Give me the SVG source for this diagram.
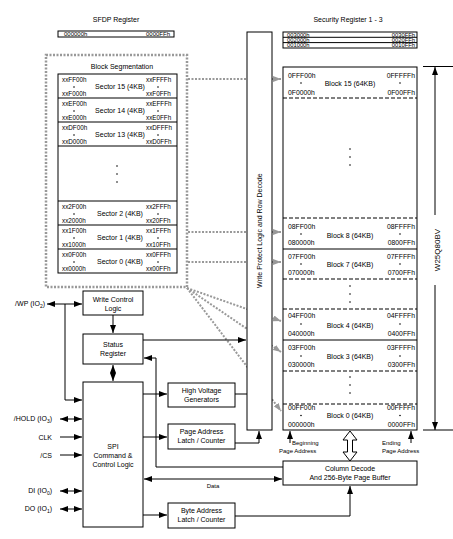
<svg xmlns="http://www.w3.org/2000/svg" width="453" height="539" viewBox="0 0 453 539">
<style>
text{font-family:"Liberation Sans",Arial,sans-serif;fill:#000}
.t{font-size:7px}
.b{font-size:7px;text-anchor:middle}
.h{font-size:6.8px}
.hs{font-size:6.3px}
.hr{font-size:5.8px}
.sm{font-size:6px}
.s{font-size:7px;text-anchor:middle}
.m{text-anchor:middle}
.e{text-anchor:end}
.box{fill:#fff;stroke:#000;stroke-width:1}
.ln{fill:none;stroke:#000;stroke-width:1}
.dash{fill:none;stroke:#000;stroke-width:1;stroke-dasharray:4,2}
.gd{fill:none;stroke:#999;stroke-width:2;stroke-dasharray:2,1.5}
.dot{fill:#000}
</style>
<defs>
<marker id="a" viewBox="0 0 8 6" refX="8" refY="3" markerWidth="8" markerHeight="6" markerUnits="userSpaceOnUse" orient="auto-start-reverse"><path d="M0,0L8,3L0,6z" fill="#000"/></marker>
<marker id="g" viewBox="0 0 8 6" refX="8" refY="3" markerWidth="8" markerHeight="6" markerUnits="userSpaceOnUse" orient="auto"><path d="M0,0L8,3L0,6z" fill="#999"/></marker>
</defs>

<!-- titles -->
<text class="t m" x="116" y="22">SFDP Register</text>
<text class="t m" x="348" y="22">Security Register 1 - 3</text>

<g id="sfdp">
<rect class="box" x="58" y="31" width="116" height="6"/>
<text class="sm" x="64" y="36.2">000000h</text>
<text class="sm e" x="170" y="36.2">0000FFh</text>
</g>

<g id="security">
<rect class="box" x="283" y="32" width="134" height="16"/>
<line class="ln" x1="283" y1="37.3" x2="417" y2="37.3"/>
<line class="ln" x1="283" y1="42.6" x2="417" y2="42.6"/>
<text class="hr" x="287" y="36.8">003000h</text>
<text class="hr e" x="415" y="36.8">0030FFh</text>
<text class="hr" x="287" y="42.1">002000h</text>
<text class="hr e" x="415" y="42.1">0020FFh</text>
<text class="hr" x="287" y="47.4">001000h</text>
<text class="hr e" x="415" y="47.4">0010FFh</text>
</g>

<!-- gray dotted connectors -->
<g id="connectors-gray">
<line class="gd" x1="188" y1="79" x2="281" y2="79" marker-end="url(#g)"/>
<line class="gd" x1="188" y1="232" x2="281" y2="232" marker-end="url(#g)"/>
<line class="gd" x1="188" y1="262" x2="281" y2="262" marker-end="url(#g)"/>
<line class="gd" x1="187" y1="288" x2="281" y2="321" marker-end="url(#g)"/>
<line class="gd" x1="187" y1="288" x2="281" y2="352" marker-end="url(#g)"/>
<line class="gd" x1="187" y1="288" x2="281" y2="411" marker-end="url(#g)"/>
</g>

<g id="block-segmentation">
<rect x="46" y="55" width="141" height="232" fill="none" stroke="#999" stroke-width="2.5" stroke-dasharray="2,1.5"/>
<text class="t m" x="122" y="69">Block Segmentation</text>
<rect class="box" x="58" y="74" width="119" height="199"/>
<line class="ln" x1="58" y1="98" x2="177" y2="98"/>
<line class="ln" x1="58" y1="122" x2="177" y2="122"/>
<line class="ln" x1="58" y1="146" x2="177" y2="146"/>
<line class="ln" x1="58" y1="201" x2="177" y2="201"/>
<line class="ln" x1="58" y1="225" x2="177" y2="225"/>
<line class="ln" x1="58" y1="249" x2="177" y2="249"/>
<!-- sector 15 -->
<text class="hs" x="62" y="82">xxFF00h</text><circle class="dot" cx="74" cy="87" r="0.8"/><text class="hs" x="62" y="95.5">xxF000h</text>
<text class="s" x="120" y="89">Sector 15 (4KB)</text>
<text class="hs" x="146" y="82">xxFFFFh</text><circle class="dot" cx="158" cy="87" r="0.8"/><text class="hs" x="146" y="95.5">xxF0FFh</text>
<!-- sector 14 -->
<text class="hs" x="62" y="106">xxEF00h</text><circle class="dot" cx="74" cy="111" r="0.8"/><text class="hs" x="62" y="119.5">xxE000h</text>
<text class="s" x="120" y="113">Sector 14 (4KB)</text>
<text class="hs" x="146" y="106">xxEFFFh</text><circle class="dot" cx="158" cy="111" r="0.8"/><text class="hs" x="146" y="119.5">xxE0FFh</text>
<!-- sector 13 -->
<text class="hs" x="62" y="130">xxDF00h</text><circle class="dot" cx="74" cy="135" r="0.8"/><text class="hs" x="62" y="143.5">xxD000h</text>
<text class="s" x="120" y="137">Sector 13 (4KB)</text>
<text class="hs" x="146" y="130">xxDFFFh</text><circle class="dot" cx="158" cy="135" r="0.8"/><text class="hs" x="146" y="143.5">xxD0FFh</text>
<circle class="dot" cx="117" cy="166" r="0.8"/><circle class="dot" cx="117" cy="174" r="0.8"/><circle class="dot" cx="117" cy="182" r="0.8"/>
<!-- sector 2 -->
<text class="hs" x="62" y="209">xx2F00h</text><circle class="dot" cx="74" cy="214" r="0.8"/><text class="hs" x="62" y="222.5">xx2000h</text>
<text class="s" x="120" y="216">Sector 2 (4KB)</text>
<text class="hs" x="146" y="209">xx2FFFh</text><circle class="dot" cx="158" cy="214" r="0.8"/><text class="hs" x="146" y="222.5">xx20FFh</text>
<!-- sector 1 -->
<text class="hs" x="62" y="233">xx1F00h</text><circle class="dot" cx="74" cy="238" r="0.8"/><text class="hs" x="62" y="246.5">xx1000h</text>
<text class="s" x="120" y="240">Sector 1 (4KB)</text>
<text class="hs" x="146" y="233">xx1FFFh</text><circle class="dot" cx="158" cy="238" r="0.8"/><text class="hs" x="146" y="246.5">xx10FFh</text>
<!-- sector 0 -->
<text class="hs" x="62" y="257">xx0F00h</text><circle class="dot" cx="74" cy="262" r="0.8"/><text class="hs" x="62" y="270.5">xx0000h</text>
<text class="s" x="120" y="264">Sector 0 (4KB)</text>
<text class="hs" x="146" y="257">xx0FFFh</text><circle class="dot" cx="158" cy="262" r="0.8"/><text class="hs" x="146" y="270.5">xx00FFh</text>
</g>

<g id="write-protect">
<rect class="box" x="247" y="32" width="25" height="398"/>
<text class="t" transform="translate(262,288) rotate(-90)">Write Protect Logic and Row Decode</text>
</g>

<g id="memory-array">
<rect class="box" x="283" y="67" width="134" height="363"/>
<line class="dash" x1="283" y1="98" x2="417" y2="98"/>
<line class="dash" x1="283" y1="218" x2="417" y2="218"/>
<line class="ln" x1="283" y1="249" x2="417" y2="249"/>
<line class="dash" x1="283" y1="279" x2="417" y2="279"/>
<line class="dash" x1="283" y1="309" x2="417" y2="309"/>
<line class="ln" x1="283" y1="340" x2="417" y2="340"/>
<line class="dash" x1="283" y1="371" x2="417" y2="371"/>
<line class="dash" x1="283" y1="404" x2="417" y2="404"/>
<!-- block 15 -->
<text class="h" x="288" y="77.5">0FFF00h</text><circle class="dot" cx="301" cy="83" r="0.8"/><text class="h" x="288" y="94.5">0F0000h</text>
<text class="s" x="350" y="85.5">Block 15 (64KB)</text>
<text class="h e" x="415" y="77.5">0FFFFFh</text><circle class="dot" cx="400" cy="83" r="0.8"/><text class="h e" x="415" y="94.5">0F00FFh</text>
<circle class="dot" cx="350" cy="149" r="0.8"/><circle class="dot" cx="350" cy="157" r="0.8"/><circle class="dot" cx="350" cy="165" r="0.8"/>
<!-- block 8 -->
<text class="h" x="288" y="228.5">08FF00h</text><circle class="dot" cx="301" cy="234" r="0.8"/><text class="h" x="288" y="244.5">080000h</text>
<text class="s" x="350" y="237.5">Block 8 (64KB)</text>
<text class="h e" x="415" y="228.5">08FFFFh</text><circle class="dot" cx="400" cy="234" r="0.8"/><text class="h e" x="415" y="244.5">0800FFh</text>
<!-- block 7 -->
<text class="h" x="288" y="258.5">07FF00h</text><circle class="dot" cx="301" cy="264" r="0.8"/><text class="h" x="288" y="274.5">070000h</text>
<text class="s" x="350" y="266.5">Block 7 (64KB)</text>
<text class="h e" x="415" y="258.5">07FFFFh</text><circle class="dot" cx="400" cy="264" r="0.8"/><text class="h e" x="415" y="274.5">0700FFh</text>
<circle class="dot" cx="350" cy="286" r="0.8"/><circle class="dot" cx="350" cy="294" r="0.8"/><circle class="dot" cx="350" cy="302" r="0.8"/>
<!-- block 4 -->
<text class="h" x="288" y="317.5">04FF00h</text><circle class="dot" cx="301" cy="324" r="0.8"/><text class="h" x="288" y="335.5">040000h</text>
<text class="s" x="350" y="327.5">Block 4 (64KB)</text>
<text class="h e" x="415" y="317.5">04FFFFh</text><circle class="dot" cx="400" cy="324" r="0.8"/><text class="h e" x="415" y="335.5">0400FFh</text>
<!-- block 3 -->
<text class="h" x="288" y="349.5">03FF00h</text><circle class="dot" cx="301" cy="356" r="0.8"/><text class="h" x="288" y="366.5">030000h</text>
<text class="s" x="350" y="358.5">Block 3 (64KB)</text>
<text class="h e" x="415" y="349.5">03FFFFh</text><circle class="dot" cx="400" cy="356" r="0.8"/><text class="h e" x="415" y="366.5">0300FFh</text>
<circle class="dot" cx="350" cy="377" r="0.8"/><circle class="dot" cx="350" cy="385" r="0.8"/><circle class="dot" cx="350" cy="393" r="0.8"/>
<!-- block 0 -->
<text class="h" x="288" y="410">00FF00h</text><circle class="dot" cx="301" cy="415.5" r="0.8"/><text class="h" x="288" y="426.5">000000h</text>
<text class="s" x="350" y="417.5">Block 0 (64KB)</text>
<text class="h e" x="415" y="410">00FFFFh</text><circle class="dot" cx="400" cy="415.5" r="0.8"/><text class="h e" x="415" y="426.5">0000FFh</text>
</g>

<g id="write-control">
<rect class="box" x="83" y="291" width="60" height="24"/>
<text class="b" x="113" y="302">Write Control</text>
<text class="b" x="113" y="311">Logic</text>
</g>
<g id="status-register">
<rect class="box" x="83" y="334" width="60" height="30"/>
<text class="b" x="113" y="347">Status</text>
<text class="b" x="113" y="356">Register</text>
</g>
<g id="spi">
<rect class="box" x="83" y="382" width="60" height="145"/>
<text class="b" x="113" y="449">SPI</text>
<text class="b" x="113" y="458">Command &amp;</text>
<text class="b" x="113" y="467">Control Logic</text>
</g>
<g id="high-voltage">
<rect class="box" x="168" y="383" width="67" height="24"/>
<text class="b" x="201.5" y="393">High Voltage</text>
<text class="b" x="201.5" y="402">Generators</text>
</g>
<g id="page-address">
<rect class="box" x="168" y="424" width="67" height="25"/>
<text class="b" x="201.5" y="434">Page Address</text>
<text class="b" x="201.5" y="443">Latch / Counter</text>
</g>
<g id="byte-address">
<rect class="box" x="168" y="503" width="67" height="25"/>
<text class="b" x="201.5" y="513">Byte Address</text>
<text class="b" x="201.5" y="522">Latch / Counter</text>
</g>
<g id="column-decode">
<rect class="box" x="283" y="461" width="134" height="24"/>
<text class="b" x="350" y="471">Column Decode</text>
<text class="b" x="350" y="480">And 256-Byte Page Buffer</text>
</g>

<g id="pins">
<text class="t e" x="45" y="306">/WP (IO<tspan font-size="5" dy="1.5">2</tspan><tspan dy="-1.5">)</tspan></text>
<text class="t e" x="52" y="421">/HOLD (IO<tspan font-size="5" dy="1.5">3</tspan><tspan dy="-1.5">)</tspan></text>
<text class="t e" x="52" y="439.5">CLK</text>
<text class="t e" x="52" y="457.5">/CS</text>
<text class="t e" x="52" y="493">DI (IO<tspan font-size="5" dy="1.5">0</tspan><tspan dy="-1.5">)</tspan></text>
<text class="t e" x="52" y="511">DO (IO<tspan font-size="5" dy="1.5">1</tspan><tspan dy="-1.5">)</tspan></text>
</g>

<g id="connectors">
<line class="ln" x1="47" y1="304" x2="82" y2="304" marker-start="url(#a)" marker-end="url(#a)"/>
<polyline class="ln" points="65,304 65,400 82,400" marker-end="url(#a)"/>
<line class="ln" x1="113" y1="315" x2="113" y2="333" marker-end="url(#a)"/>
<line class="ln" x1="113" y1="365" x2="113" y2="381" marker-start="url(#a)" marker-end="url(#a)"/>
<line class="ln" x1="143" y1="340" x2="246" y2="340" marker-end="url(#a)"/>
<polyline class="ln" points="283,467 156,467 156,358 144,358" marker-end="url(#a)"/>
<line class="ln" x1="143" y1="394" x2="167" y2="394" marker-end="url(#a)"/>
<line class="ln" x1="235" y1="394" x2="247" y2="394"/>
<line class="ln" x1="143" y1="437" x2="167" y2="437" marker-end="url(#a)"/>
<polyline class="ln" points="235,443 259,443 259,431" marker-end="url(#a)"/>
<line class="ln" x1="144" y1="479" x2="282" y2="479" marker-start="url(#a)" marker-end="url(#a)"/>
<text class="sm m" x="213" y="488">Data</text>
<line class="ln" x1="143" y1="515" x2="167" y2="515" marker-end="url(#a)"/>
<polyline class="ln" points="235,516 350,516 350,486" marker-end="url(#a)"/>
<line class="ln" x1="60" y1="419" x2="82" y2="419" marker-start="url(#a)" marker-end="url(#a)"/>
<line class="ln" x1="60" y1="437" x2="82" y2="437" marker-end="url(#a)"/>
<line class="ln" x1="60" y1="455" x2="82" y2="455" marker-end="url(#a)"/>
<line class="ln" x1="60" y1="491" x2="82" y2="491" marker-start="url(#a)" marker-end="url(#a)"/>
<line class="ln" x1="60" y1="509" x2="82" y2="509" marker-start="url(#a)" marker-end="url(#a)"/>
<polygon points="350,431 357,440 352.5,440 352.5,452 357,452 350,461 343,452 347.5,452 347.5,440 343,440" fill="#fff" stroke="#000" stroke-width="1"/>
<line class="ln" x1="290" y1="443" x2="290" y2="431" marker-end="url(#a)"/>
<line class="ln" x1="411" y1="443" x2="411" y2="431" marker-end="url(#a)"/>
<text class="sm" x="292" y="445">Beginning</text>
<text class="sm" x="279" y="452.5">Page Address</text>
<text class="sm" x="382" y="445">Ending</text>
<text class="sm" x="382" y="452.5">Page Address</text>
<line class="ln" x1="423" y1="66.5" x2="453" y2="66.5"/>
<line class="ln" x1="423" y1="430" x2="453" y2="430"/>
<line class="ln" x1="435" y1="215" x2="435" y2="67" marker-end="url(#a)"/>
<line class="ln" x1="435" y1="285" x2="435" y2="430" marker-end="url(#a)"/>
<text transform="translate(440,250) rotate(-90)" text-anchor="middle" font-size="8">W25Q80BV</text>
</g>
</svg>
